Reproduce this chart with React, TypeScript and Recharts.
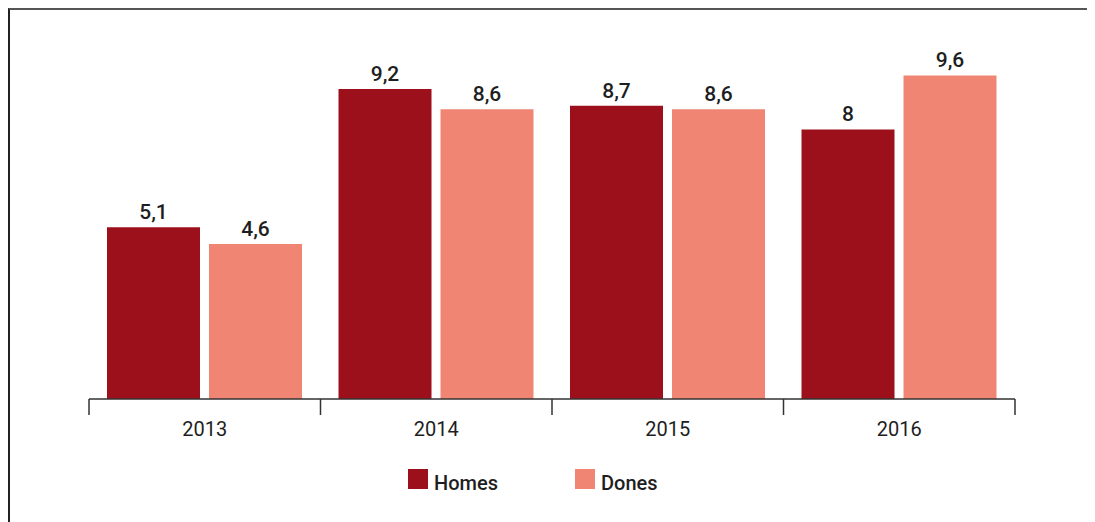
import { Bar, BarChart, LabelList, Legend, XAxis, YAxis } from 'recharts';

const years = ['2013', '2014', '2015', '2016'];
const homes = [5.1, 9.2, 8.7, 8];
const dones = [4.6, 8.6, 8.6, 9.6];

const series = [
  { key: 'homes', name: 'Homes', color: '#9c101b' },
  { key: 'dones', name: 'Dones', color: '#ef8572' }
];

const data = years.map((year, i) => ({ year, homes: homes[i], dones: dones[i] }));

const FONT = 'Roboto, "DejaVu Sans", sans-serif';
const TEXT = '#1e1e22';
const W = 1087;
const H = 514;
const margin = { top: 54, right: 80, bottom: 83, left: 81 };
const band = (W - margin.left - margin.right) / years.length;

function YearTick(props: any) {
  const { x, y, payload, index } = props;
  const left = x - band / 2;
  return (
    <g>
      <line x1={left} y1={y} x2={left} y2={y + 16} stroke="#333" strokeWidth={1.5} />
      {index === years.length - 1 && (
        <line x1={x + band / 2} y1={y} x2={x + band / 2} y2={y + 16} stroke="#333" strokeWidth={1.5} />
      )}
      <text x={x} y={y + 37} textAnchor="middle" fontSize={20} fontFamily={FONT} fill={TEXT}>
        {payload.value}
      </text>
    </g>
  );
}

function LegendBox() {
  return (
    <div style={{ display: 'flex', fontFamily: FONT, fontSize: 20, fontWeight: 500, color: TEXT }}>
      {series.map((s) => (
        <div key={s.key} style={{ display: 'flex', alignItems: 'flex-start', width: 167 }}>
          <div style={{ width: 20, height: 20, background: s.color, marginRight: 6 }} />
          <div style={{ lineHeight: '20px', marginTop: 4 }}>{s.name}</div>
        </div>
      ))}
    </div>
  );
}

export default function App() {
  return (
    <div style={{ position: 'relative', width: W, height: H }}>
      <BarChart width={W} height={H} data={data} margin={margin} barCategoryGap={18} barGap={9}>
        <XAxis
          dataKey="year"
          axisLine={{ stroke: '#333', strokeWidth: 1.5 }}
          tickLine={false}
          tickSize={0}
          tickMargin={0}
          height={40}
          tick={<YearTick />}
          interval={0}
        />
        <YAxis hide domain={[0, 10]} />
        <Legend
          verticalAlign="middle"
          align="center"
          content={<LegendBox />}
          wrapperStyle={{ top: 461, left: 400, width: 400 }}
        />
        {series.map((s) => (
          <Bar key={s.key} dataKey={s.key} name={s.name} fill={s.color} isAnimationActive={false}>
            <LabelList
              dataKey={s.key}
              position="top"
              offset={8}
              fontSize={21}
              fontWeight={500}
              fontFamily={FONT}
              fill={TEXT}
              formatter={(v: any) => String(v).replace('.', ',')}
            />
          </Bar>
        ))}
      </BarChart>
      <div
        style={{
          position: 'absolute',
          top: 0,
          left: 0,
          width: W,
          height: H,
          borderTop: '2px solid #555',
          borderLeft: '2px solid #222',
          boxSizing: 'border-box',
          pointerEvents: 'none'
        }}
      />
    </div>
  );
}
